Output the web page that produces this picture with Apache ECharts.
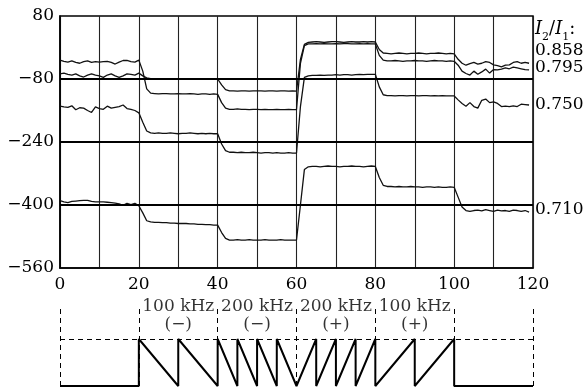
<!DOCTYPE html>
<html><head><meta charset="utf-8">
<script src="https://cdn.jsdelivr.net/npm/echarts@6/dist/echarts.min.js"></script>
<style>html,body{margin:0;padding:0;background:#fff}#c{width:585px;height:388px}</style>
</head><body><div id="c"></div>
<script>
// sample positions (time axis, 0..119)
const xStart = 0, xCount = 120;
// four traces, values (x = 0..119)
const traceA = [
 -32,-35,-37,-34,-38,-40,-36,-34,-38,-36,-37,-36,-35,-38,-42,-37,-33,-33,-36,-37,-32,
 -60,-105,-116,-117,-118,-117,-117,-118,-118,-117,-118,-118,-117,-118,-119,-118,-118,-119,-118,-119,
 -140,-154,-157,-157,-156,-157,-157,-158,-157,-157,-158,-157,-158,-158,-157,-158,-158,-157,-158,-158,
 -40,5,9,9,10,9,10,9,9,10,9,10,10,9,9,10,9,10,9,9,
 -20,-32,-34,-34,-33,-34,-35,-34,-34,-33,-34,-34,-35,-34,-33,-34,-34,-35,-34,-35,
 -45,-60,-66,-70,-60,-68,-62,-55,-65,-56,-57,-55,-52,-54,-50,-52,-54,-56,-57];
const traceB = [
 -67,-65,-68,-70,-67,-72,-75,-70,-67,-70,-72,-76,-70,-67,-72,-76,-72,-67,-68,-70,-65,
 -72,-77,-79,-80,-79,-79,-80,-79,-79,-80,-79,-79,-80,-79,-79,-80,-80,-79,-80,-80,
 -95,-107,-110,-110,-111,-110,-110,-111,-110,-110,-110,-111,-110,-110,-111,-110,-110,-111,-110,-111,
 -30,8,13,14,15,14,13,14,15,15,14,13,14,15,14,14,15,14,15,14,
 -5,-14,-15,-16,-15,-14,-15,-16,-15,-15,-14,-15,-16,-15,-15,-14,-15,-16,-15,-16,
 -30,-40,-45,-41,-38,-42,-40,-36,-38,-44,-46,-49,-45,-44,-38,-36,-40,-38,-40];
const traceC = [
 -149,-151,-152,-148,-158,-153,-154,-160,-165,-151,-155,-157,-149,-154,-152,-150,-146,-155,-157,-160,-166,
 -190,-212,-217,-218,-217,-218,-218,-217,-218,-219,-218,-218,-217,-218,-219,-218,-219,-218,-219,-219,
 -245,-262,-266,-266,-267,-266,-267,-267,-266,-267,-268,-267,-267,-268,-267,-268,-268,-267,-268,-268,
 -150,-76,-72,-71,-71,-70,-71,-70,-70,-69,-70,-69,-69,-70,-69,-68,-69,-68,-68,-68,
 -100,-120,-122,-122,-123,-122,-122,-123,-122,-122,-123,-122,-122,-123,-122,-123,-122,-123,-123,-123,
 -133,-142,-149,-140,-150,-154,-134,-131,-140,-138,-142,-150,-149,-150,-148,-150,-144,-145,-146];
const traceD = [
 -389,-392,-394,-391,-390,-389,-388,-388,-391,-392,-392,-392,-393,-394,-395,-397,-401,-396,-399,-396,-402,
 -420,-440,-443,-444,-444,-445,-445,-446,-446,-447,-447,-447,-448,-448,-449,-449,-450,-450,-451,-451,
 -470,-485,-489,-489,-488,-489,-489,-488,-489,-489,-489,-488,-489,-489,-489,-488,-489,-489,-489,-489,
 -400,-310,-303,-302,-302,-303,-302,-301,-302,-302,-303,-302,-302,-301,-302,-302,-303,-302,-301,-302,
 -330,-350,-353,-353,-354,-353,-354,-354,-353,-354,-354,-355,-354,-354,-355,-354,-355,-355,-354,-355,
 -380,-405,-414,-416,-414,-413,-415,-412,-414,-416,-413,-415,-414,-416,-413,-414,-416,-414,-418];
const ratioLabels = ['0.858','0.795','0.750','0.710'];
const yTicks = [80,-80,-240,-400,-560];
const boldY = [-80,-240,-400];
const xTickLabels = [0,20,40,60,80,100,120];
// lower waveform diagram
const waveX = [0,20,20,30,30,40,40,45,45,50,50,55,55,60,65,65,70,70,75,75,80,80,90,90,100,100,120];
const waveY = [0,0,1,0,1,0,1,0,1,0,1,0,1,0,1,0,1,0,1,0,1,0,1,0,1,0,0];
const dashX = [0,20,40,60,80,100,120];
const bandCenters = [30,50,70,90];
const bandFreq = ['100 kHz','200 kHz','200 kHz','100 kHz'];
const bandSign = ['(\u2212)','(\u2212)','(+)','(+)'];

const xs = [];
for (let i = 0; i < xCount; i++) xs.push(xStart + i);
const FF = 'DejaVu Serif';
const mk = arr => xs.map((x,i)=>[x, arr[i]]);
const lineSeries = [traceA,traceB,traceC,traceD].map((t,k)=>({
  type:'line', data: mk(t), showSymbol:false, symbol:'none',
  lineStyle:{color:'#111', width:1.3}, z:3,
  markLine: k===0 ? {silent:true, symbol:['none','none'], label:{show:false},
     lineStyle:{color:'#000', width:2, type:'solid'},
     data: boldY.map(v=>({yAxis:v}))} : undefined
}));

const chart = echarts.init(document.getElementById('c'), null, {renderer:'canvas'});
chart.setOption({
  animation:false,
  backgroundColor:'#fff',
  grid:[
    {left:60, right:52, top:16, bottom:120, show:true, borderColor:'#000', borderWidth:1.5},
    {left:60, right:52, top:292, bottom:2}
  ],
  xAxis:[
    {type:'value', min:0, max:120, interval:10, gridIndex:0,
     axisLine:{show:true, onZero:false, lineStyle:{color:'#000', width:1.5}}, axisTick:{show:false},
     splitLine:{show:true, lineStyle:{color:'#222', width:1.1}},
     axisLabel:{color:'#000', fontFamily:FF, fontSize:17, margin:8,
       formatter:v=> xTickLabels.includes(v) ? String(v) : ''}},
    {type:'value', min:0, max:120, gridIndex:1, show:false}
  ],
  yAxis:[
    {type:'value', min:-560, max:80, interval:80, gridIndex:0,
     axisLine:{show:true, onZero:false, lineStyle:{color:'#000', width:1.5}}, axisTick:{show:false},
     splitLine:{show:false},
     axisLabel:{color:'#000', fontFamily:FF, fontSize:17, margin:6,
       formatter:v=> yTicks.includes(v) ? String(v).replace('-','\u2212') : ''}},
    {type:'value', min:0, max:2, gridIndex:1, show:false}
  ],
  series: lineSeries.concat([
    {type:'line', xAxisIndex:1, yAxisIndex:1, data: waveX.map((x,i)=>[x,waveY[i]]),
     showSymbol:false, symbol:'none', lineStyle:{color:'#000', width:2},
     markLine:{silent:true, symbol:['none','none'], label:{show:false},
       lineStyle:{color:'#000', width:1, type:[5,4]},
       data: dashX.map(x=>[{coord:[x,0]},{coord:[x,1.7]}]).concat([[{coord:[0,1]},{coord:[120,1]}]])}},
    {type:'scatter', xAxisIndex:1, yAxisIndex:1, symbolSize:1, itemStyle:{color:'rgba(0,0,0,0)'},
     data: bandCenters.map((x,i)=>[x,1.7,bandFreq[i]]).concat(bandCenters.map((x,i)=>[x,1.3,bandSign[i]])),
     label:{show:true, position:'inside', color:'#000', fontFamily:FF, fontSize:17,
       formatter:p=>p.data[2]}}
  ]),
  graphic:[
    {type:'text', left:535, top:20, style:{
      text:'{i|I}{s|2}{n|/}{i|I}{s|1}{n|:}', rich:{
        i:{fontFamily:FF, fontStyle:'italic', fontSize:18, fill:'#000', lineHeight:24, verticalAlign:'bottom'},
        n:{fontFamily:FF, fontSize:18, fill:'#000', lineHeight:24, verticalAlign:'bottom'},
        s:{fontFamily:FF, fontSize:11, fill:'#000', lineHeight:24, verticalAlign:'bottom', padding:[0,0,-5,0]}
      }}},
    {type:'text', left:535, top:42, style:{text:ratioLabels[0], font:'17px "DejaVu Serif"', fill:'#000'}},
    {type:'text', left:535, top:59, style:{text:ratioLabels[1], font:'17px "DejaVu Serif"', fill:'#000'}},
    {type:'text', left:535, top:96, style:{text:ratioLabels[2], font:'17px "DejaVu Serif"', fill:'#000'}},
    {type:'text', left:535, top:201, style:{text:ratioLabels[3], font:'17px "DejaVu Serif"', fill:'#000'}}
  ]
});
</script></body></html>
